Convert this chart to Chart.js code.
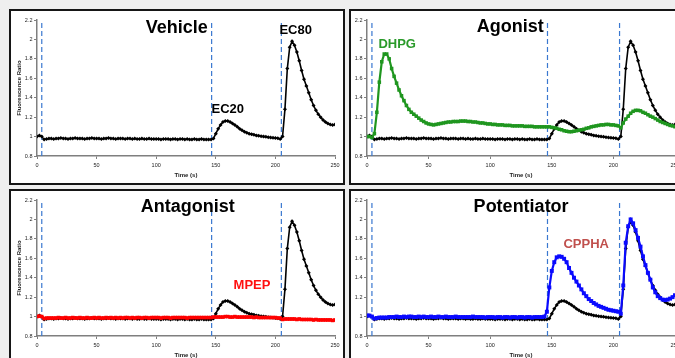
<!DOCTYPE html>
<html>
<head>
<meta charset="utf-8">
<script src="https://cdn.jsdelivr.net/npm/chart.js@4.4.0/dist/chart.umd.min.js"></script>
<style>
body { margin:0; background:#efefef; overflow:hidden; width:675px; height:358px; position:relative; }
.panel { position:absolute; width:332px; height:172px; border:2px solid #161616; background:#fff; }
canvas { display:block; }
</style>
</head>
<body>
<div class="panel" style="left:9px;top:9px"><canvas id="vehicle" width="332" height="172"></canvas></div>
<div class="panel" style="left:349px;top:9px"><canvas id="agonist" width="332" height="172"></canvas></div>
<div class="panel" style="left:9px;top:189px"><canvas id="antagonist" width="332" height="172"></canvas></div>
<div class="panel" style="left:349px;top:189px"><canvas id="potentiator" width="332" height="172"></canvas></div>
<script>
// time points (s)
const times = [
	0, 2, 4, 6, 8, 10, 12, 14, 16, 18,
	20, 22, 24, 26, 28, 30, 32, 34, 36, 38,
	40, 42, 44, 46, 48, 50, 52, 54, 56, 58,
	60, 62, 64, 66, 68, 70, 72, 74, 76, 78,
	80, 82, 84, 86, 88, 90, 92, 94, 96, 98,
	100, 102, 104, 106, 108, 110, 112, 114, 116, 118,
	120, 122, 124, 126, 128, 130, 132, 134, 136, 138,
	140, 142, 144, 146, 148, 150, 152, 154, 156, 158,
	160, 162, 164, 166, 168, 170, 172, 174, 176, 178,
	180, 182, 184, 186, 188, 190, 192, 194, 196, 198,
	200, 202, 204, 206, 208, 210, 212, 214, 216, 218,
	220, 222, 224, 226, 228, 230, 232, 234, 236, 238,
	240, 242, 244, 246, 248, 250
];

// control trace (EC20 then EC80 glutamate), black
const control = [
	1.00, 1.01, 1.00, 0.97, 0.975, 0.98, 0.98, 0.975, 0.98, 0.98,
	0.985, 0.98, 0.98, 0.975, 0.98, 0.98, 0.985, 0.98, 0.98, 0.98,
	0.975, 0.98, 0.98, 0.985, 0.98, 0.98, 0.98, 0.975, 0.98, 0.98,
	0.985, 0.98, 0.98, 0.975, 0.98, 0.98, 0.98, 0.975, 0.98, 0.98,
	0.975, 0.98, 0.975, 0.975, 0.98, 0.975, 0.975, 0.98, 0.975, 0.975,
	0.975, 0.975, 0.97, 0.975, 0.975, 0.975, 0.97, 0.975, 0.975, 0.97,
	0.975, 0.975, 0.97, 0.975, 0.97, 0.97, 0.975, 0.97, 0.97, 0.975,
	0.97, 0.97, 0.97, 0.97, 0.98, 1.03, 1.08, 1.12, 1.15, 1.16,
	1.16, 1.15, 1.135, 1.12, 1.10, 1.08, 1.065, 1.05, 1.04, 1.03,
	1.025, 1.02, 1.012, 1.008, 1.003, 1.0, 0.997, 0.993, 0.99, 0.988,
	0.985, 0.982, 0.975, 1.0, 1.28, 1.7, 1.92, 1.98, 1.94, 1.87,
	1.78, 1.68, 1.59, 1.52, 1.45, 1.38, 1.32, 1.27, 1.23, 1.2,
	1.17, 1.15, 1.135, 1.125, 1.12, 1.125
];

const dhpg = [
	1.00, 1.00, 0.99, 1.03, 1.25, 1.56, 1.77, 1.85, 1.85, 1.80,
	1.70, 1.62, 1.55, 1.48, 1.42, 1.37, 1.32, 1.28, 1.25, 1.23,
	1.21, 1.19, 1.17, 1.155, 1.14, 1.13, 1.125, 1.12, 1.125, 1.13,
	1.135, 1.14, 1.145, 1.15, 1.15, 1.155, 1.155, 1.155, 1.16, 1.16,
	1.16, 1.155, 1.155, 1.15, 1.15, 1.145, 1.14, 1.14, 1.135, 1.13,
	1.13, 1.125, 1.125, 1.12, 1.12, 1.12, 1.115, 1.115, 1.115, 1.11,
	1.11, 1.11, 1.11, 1.11, 1.105, 1.105, 1.105, 1.105, 1.10, 1.10,
	1.10, 1.10, 1.10, 1.10, 1.10, 1.095, 1.09, 1.085, 1.075, 1.07,
	1.06, 1.055, 1.05, 1.05, 1.055, 1.06, 1.065, 1.07, 1.075, 1.085,
	1.09, 1.10, 1.105, 1.11, 1.115, 1.12, 1.12, 1.125, 1.125, 1.12,
	1.12, 1.115, 1.11, 1.09, 1.14, 1.18, 1.21, 1.24, 1.26, 1.27,
	1.27, 1.265, 1.25, 1.24, 1.225, 1.21, 1.2, 1.185, 1.17, 1.155,
	1.145, 1.135, 1.125, 1.115, 1.11, 1.10
];

const mpep = [
	1.00, 1.005, 1.00, 0.98, 0.985, 0.985, 0.985, 0.985, 0.985, 0.99,
	0.985, 0.985, 0.99, 0.985, 0.985, 0.99, 0.985, 0.985, 0.99, 0.985,
	0.985, 0.99, 0.985, 0.985, 0.99, 0.985, 0.99, 0.985, 0.985, 0.99,
	0.985, 0.99, 0.985, 0.99, 0.985, 0.99, 0.985, 0.99, 0.99, 0.985,
	0.99, 0.985, 0.99, 0.99, 0.985, 0.99, 0.99, 0.985, 0.99, 0.99,
	0.99, 0.99, 0.985, 0.99, 0.99, 0.99, 0.985, 0.99, 0.99, 0.99,
	0.99, 0.99, 0.99, 0.985, 0.99, 0.99, 0.99, 0.99, 0.99, 0.99,
	0.99, 0.99, 0.99, 0.99, 0.995, 0.995, 0.995, 0.995, 0.995, 1.0,
	1.0, 0.995, 0.995, 1.0, 0.995, 0.995, 0.995, 0.995, 0.995, 0.995,
	0.995, 0.99, 0.995, 0.99, 0.99, 0.99, 0.99, 0.99, 0.99, 0.99,
	0.99, 0.985, 0.985, 0.97, 0.975, 0.975, 0.975, 0.975, 0.975, 0.97,
	0.975, 0.97, 0.97, 0.97, 0.97, 0.97, 0.965, 0.97, 0.965, 0.965,
	0.965, 0.965, 0.965, 0.965, 0.96, 0.965
];

const cppha = [
	1.01, 1.01, 1.00, 0.98, 0.985, 0.99, 0.99, 0.99, 0.99, 0.995,
	0.995, 0.995, 1.0, 0.995, 0.995, 1.0, 0.995, 1.0, 1.0, 0.995,
	0.995, 1.0, 0.995, 1.0, 0.995, 0.995, 1.0, 0.995, 0.995, 1.0,
	0.995, 0.995, 1.0, 0.995, 0.995, 0.995, 1.0, 0.995, 0.995, 0.995,
	0.995, 0.995, 0.995, 1.0, 0.995, 0.995, 0.995, 0.995, 0.99, 0.995,
	0.995, 0.995, 0.99, 0.995, 0.995, 0.99, 0.995, 0.995, 0.99, 0.995,
	0.995, 0.99, 0.995, 0.995, 0.99, 0.995, 0.995, 0.99, 0.995, 0.995,
	0.995, 0.995, 1.0, 1.05, 1.30, 1.47, 1.56, 1.61, 1.62, 1.615,
	1.595, 1.56, 1.50, 1.45, 1.40, 1.36, 1.32, 1.28, 1.24, 1.21,
	1.18, 1.16, 1.14, 1.125, 1.11, 1.10, 1.09, 1.08, 1.07, 1.065,
	1.06, 1.055, 1.05, 1.03, 1.32, 1.76, 1.93, 2.0, 1.96, 1.89,
	1.81, 1.72, 1.62, 1.53, 1.45, 1.38, 1.30, 1.25, 1.21, 1.19,
	1.175, 1.17, 1.175, 1.185, 1.20, 1.22
];

// compound additions (s)
const additions = [4, 146.5, 205];

const yTicks = [0.8, 1, 1.2, 1.4, 1.6, 1.8, 2, 2.2];
const yTickLabels = ['0.8', '1', '1.2', '1.4', '1.6', '1.8', '2', '2.2'];
const xTicks = [0, 50, 100, 150, 200, 250];
const xTickLabels = ['0', '50', '100', '150', '200', '250'];

const FONT = '"Liberation Sans", Arial, Helvetica, sans-serif';

const notesPlugin = {
	id: 'notes',
	afterDatasetsDraw(chart, args, opts) {
		const ctx = chart.ctx;
		const xs = chart.scales.x, ys = chart.scales.y;
		opts.items.forEach(n => {
			ctx.save();
			ctx.font = 'bold ' + n.size + 'px ' + FONT;
			ctx.fillStyle = n.color;
			ctx.textAlign = 'center';
			ctx.textBaseline = 'alphabetic';
			ctx.fillText(n.text, xs.getPixelForValue(n.x), ys.getPixelForValue(n.y));
			ctx.restore();
		});
	}
};

function toPoints(vals) {
	return times.map((t, i) => ({ x: t, y: vals[i] }));
}

function traceSet(vals, color, width, style, radius) {
	return {
		data: toPoints(vals),
		showLine: true,
		borderColor: color,
		backgroundColor: color,
		borderWidth: width,
		pointStyle: style,
		pointRadius: radius,
		pointBorderWidth: 0,
		tension: 0
	};
}

function dashSet(t) {
	return {
		data: [{ x: t, y: 0.8 }, { x: t, y: 2.2 }],
		showLine: true,
		borderColor: '#3a78d0',
		borderWidth: 1.2,
		borderDash: [5, 3],
		pointRadius: 0
	};
}

function makePanel(id, drug, showYTitle, notes) {
	const datasets = [];
	if (drug) datasets.push(traceSet(drug.values, drug.color, drug.width, 'rect', drug.radius));
	datasets.push(traceSet(control, '#000000', 1.6, 'rectRot', 2));
	additions.forEach(t => datasets.push(dashSet(t)));

	return new Chart(document.getElementById(id), {
		type: 'scatter',
		data: { datasets: datasets },
		plugins: [notesPlugin],
		options: {
			responsive: false,
			animation: false,
			events: [],
			layout: { padding: { top: 9, right: 8, left: 0, bottom: 0 } },
			plugins: {
				legend: { display: false },
				tooltip: { enabled: false },
				notes: { items: notes }
			},
			scales: {
				x: {
					type: 'linear',
					min: 0,
					max: 250,
					afterBuildTicks: s => { s.ticks = xTicks.map(v => ({ value: v })); },
					afterFit: s => { s.height = 27; },
					grid: { drawOnChartArea: false, drawTicks: true, tickLength: 3, color: '#7f7f7f' },
					border: { color: '#7f7f7f', width: 1.5 },
					ticks: {
						padding: 3,
						maxRotation: 0,
						autoSkip: false,
						color: '#222',
						font: { family: FONT, size: 5.5 },
						callback: (v, i) => xTickLabels[i]
					},
					title: {
						display: true,
						text: 'Time (s)',
						color: '#222',
						font: { family: FONT, size: 6, weight: 'bold' },
						padding: { top: 3, bottom: 4 }
					}
				},
				y: {
					min: 0.8,
					max: 2.2,
					afterBuildTicks: s => { s.ticks = yTicks.map(v => ({ value: v })); },
					afterFit: s => { s.width = showYTitle ? 26 : 16; },
					grid: { drawOnChartArea: false, drawTicks: true, tickLength: 3, color: '#7f7f7f' },
					border: { color: '#7f7f7f', width: 1.5 },
					ticks: {
						padding: 1.5,
						autoSkip: false,
						color: '#222',
						font: { family: FONT, size: 5.5 },
						callback: (v, i) => yTickLabels[i]
					},
					title: {
						display: showYTitle,
						text: 'Fluorescence Ratio',
						color: '#222',
						font: { family: FONT, size: 6, weight: 'bold' },
						padding: { top: 4.4, bottom: 0 }
					}
				}
			}
		}
	});
}

makePanel('vehicle', null, true, [
	{ text: 'Vehicle', x: 117.3, y: 2.071, size: 18, color: '#000' },
	{ text: 'EC20', x: 160, y: 1.238, size: 13, color: '#000' },
	{ text: 'EC80', x: 217, y: 2.056, size: 13, color: '#000' }
]);

makePanel('agonist', { values: dhpg, color: '#1f961f', width: 2.2, radius: 2.5 }, false, [
	{ text: 'Agonist', x: 116.3, y: 2.073, size: 18, color: '#000' },
	{ text: 'DHPG', x: 24.5, y: 1.908, size: 13, color: '#2a9a2a' }
]);

makePanel('antagonist', { values: mpep, color: '#ff0000', width: 2.8, radius: 2.5 }, true, [
	{ text: 'Antagonist', x: 126.5, y: 2.079, size: 18, color: '#000' },
	{ text: 'MPEP', x: 180.4, y: 1.279, size: 13, color: '#ff1010' }
]);

makePanel('potentiator', { values: cppha, color: '#0a0aff', width: 2.2, radius: 2.8 }, false, [
	{ text: 'Potentiator', x: 125.1, y: 2.073, size: 18, color: '#000' },
	{ text: 'CPPHA', x: 177.9, y: 1.702, size: 13, color: '#c0504d' }
]);
</script>
</body>
</html>
